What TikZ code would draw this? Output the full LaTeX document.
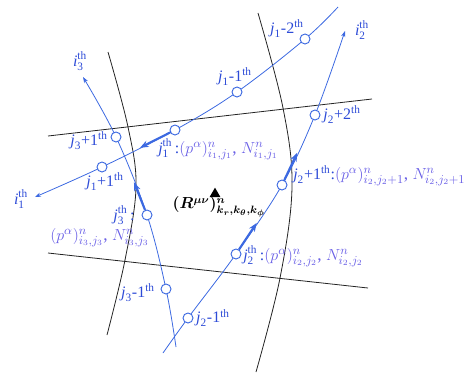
\documentclass[tikz,border=0pt]{standalone}
\usepackage{fontspec}
\setmainfont{Liberation Serif}
\usetikzlibrary{arrows.meta,calc,shapes.geometric}
\definecolor{lblue}{RGB}{60,105,225}
\definecolor{tblue}{RGB}{45,75,215}
\definecolor{fviolet}{RGB}{105,95,230}
\definecolor{dgray}{RGB}{35,35,35}
\newcommand\sz[1]{\mbox{\fontsize{8.5}{9}\selectfont #1}}
\newcommand\jl[1]{$\mbox{\itshape j}_{\sz{#1}}$}
\newcommand\jt[1]{$\mbox{\itshape j}_{\sz{#1}}^{\sz{th}}$}
\newcommand\ilab[1]{$\mbox{\itshape i}_{\sz{#1}}^{\sz{th}}$}
\newcommand\thh{$^{\sz{th}}$}
\newcommand\frml[1]{{\color{fviolet}\fontsize{13}{15}\selectfont #1}}
\begin{document}
\begin{tikzpicture}[x=0.75pt,y=-0.75pt,
  gline/.style={dgray,line width=0.6pt},
  bline/.style={lblue,line width=0.6pt},
  barrow/.style={lblue,line width=1.6pt,-{Stealth[length=6.5pt,width=5pt]}},
  tip/.style={-{Stealth[length=4.5pt,width=3.2pt]}},
  pt/.style={circle,draw=lblue,fill=white,line width=0.7pt,inner sep=0pt,minimum size=7.5pt},
  lab/.style={text=tblue,inner sep=0pt,font=\fontsize{12}{14}\selectfont}]
\useasboundingbox (0,0) rectangle (473,372);
% black grid curves
\draw[gline] plot[smooth,tension=0.6] coordinates {(108,52) (128,127) (136,187) (125,260) (107,335)};
\draw[gline] plot[smooth,tension=0.6] coordinates {(258,13) (283,108) (292,187) (280,278) (256,372)};
\draw[gline] (48,136) -- (372,99);
\draw[gline] (48,253) -- (368,288);
% curve points
\coordinate (e1) at (35,197);
\coordinate (q1p) at (102,167);
\coordinate (q1) at (175,130);
\coordinate (q1m) at (237,92);
\coordinate (q1mm) at (305,39);
\coordinate (s1) at (338,7);
\coordinate (s2) at (163,353);
\coordinate (q2m) at (188,318);
\coordinate (q2) at (236,254);
\coordinate (q2p) at (282,185);
\coordinate (q2pp) at (315,115);
\coordinate (e2) at (345,31);
\coordinate (s3) at (176,347);
\coordinate (q3m) at (166,289);
\coordinate (q3) at (147,215);
\coordinate (q3p) at (116,137);
\coordinate (e3) at (83,77);
% blue curves
\draw[bline,tip] plot[smooth,tension=0.6] coordinates {(s1) (q1mm) (q1m) (q1) (q1p) (e1)};
\draw[bline,tip] plot[smooth,tension=0.6] coordinates {(s2) (q2m) (q2) (q2p) (q2pp) (e2)};
\draw[bline,tip] plot[smooth,tension=0.6] coordinates {(s3) (q3m) (q3) (q3p) (e3)};
% points
\foreach \n in {q1p,q1,q1m,q1mm,q2m,q2,q2p,q2pp,q3m,q3,q3p}
  \node[pt] (n\n) at (\n) {};
% thick arrows
\coordinate (a1) at ($(q1)!0.48!(q1p)$);
\coordinate (a3) at ($(q3)!0.42!(q3p)$);
\coordinate (a2) at ($(q2)!0.45!(q2p)$);
\coordinate (a2b) at ($(q2p)!0.46!(q2pp)$);
\draw[barrow] (nq1) -- (a1);
\draw[barrow] (nq3) -- (a3);
\draw[barrow] (nq2) -- (a2);
\draw[barrow] (nq2p) -- (a2b);
% labels
\node[lab] (li3) at (80,61) {\ilab{3}};
\node[lab] (li2) at (362,30) {\ilab{2}};
\node[lab] (li1) at (21,199) {\ilab{1}};
\node[lab] (l1m) at (235,77) {\jl{1}-1\thh};
\node[lab] (l1mm) at (287,29) {\jl{1}-2\thh};
\node[lab] (l2pp) at (342,115) {\jl{2}+2\thh};
\node[lab] (l3p) at (89,141) {\jl{3}+1\thh};
\node[lab] (l1p) at (105,182) {\jl{1}+1\thh};
\node[lab] (l3m) at (138,293) {\jl{3}-1\thh};
\node[lab] (l2m) at (213,318) {\jl{2}-1\thh};
\node[lab,anchor=base west] (l1) at (158,153) {\jt{1}\,:\frml{$(p^{\alpha})^n_{i_1,j_1}$, $N^n_{i_1,j_1}$}};
\node[lab,anchor=base west] (l2p) at (293,179) {\jl{2}+1\thh:\frml{$(p^{\alpha})^n_{i_2,j_2+1}$, $N^n_{i_2,j_2+1}$}};
\node[lab,anchor=base west] (l2) at (243,260) {\jt{2}\,:\frml{$(p^{\alpha})^n_{i_2,j_2}$, $N^n_{i_2,j_2}$}};
\node[lab] (l3) at (124,215) {\jt{3}\,:};
\node[lab,anchor=base west] (l3f) at (50,240) {\frml{$(p^{\alpha})^n_{i_3,j_3}$, $N^n_{i_3,j_3}$}};
\node[regular polygon,regular polygon sides=3,fill=black,inner sep=0pt,minimum size=9.5pt] (tri) at (215,194) {};
\node[inner sep=0pt,font=\fontsize{12}{14}\selectfont\boldmath] (lr) at (219,207) {$(R^{\mu\nu})^n_{k_r,k_\theta,k_\phi}$};
\end{tikzpicture}
\end{document}
